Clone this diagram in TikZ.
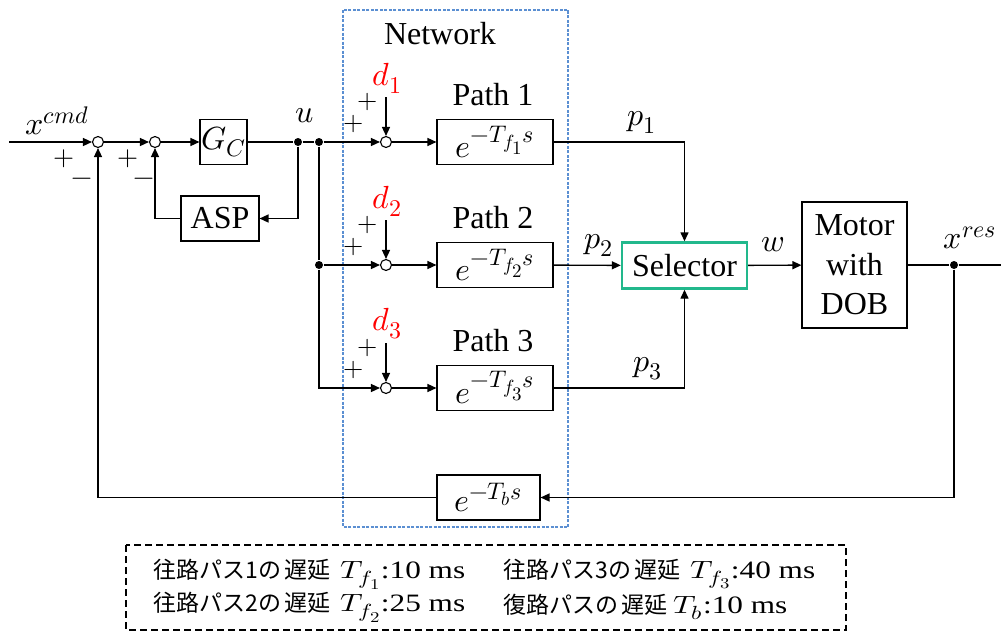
\documentclass[tikz,border=0pt]{standalone}
\usepackage{fontspec}
\usepackage{unicode-math}
\setmainfont{Liberation Serif}
\newfontfamily\jp{Noto Sans CJK JP}
\DeclareMathSizes{32}{32}{24}{19}
\DeclareMathSizes{25}{25}{19}{15}
\usetikzlibrary{arrows.meta,positioning}
\definecolor{selgreen}{RGB}{34,184,140}
\definecolor{netblue}{RGB}{91,143,210}
\definecolor{dred}{RGB}{255,0,0}
\newcommand{\jtext}[1]{{\jp\fontsize{23}{26}\selectfont #1}}
\newcommand{\wtext}[1]{\scalebox{1.25}[1]{#1}}
\begin{document}
\begin{tikzpicture}[x=1pt,y=-1pt,
  line width=1.4pt,
  >={Triangle[length=9pt,width=8pt]},
  blk/.style={draw,line width=1.1pt,minimum height=45pt,inner sep=0pt,font=\fontsize{32}{36}\selectfont},
  sumc/.style={circle,draw,fill=white,line width=1.1pt,minimum size=11pt,inner sep=0pt},
  jdot/.style={circle,fill=black,minimum size=8pt,inner sep=0pt},
  lbl/.style={font=\fontsize{32}{36}\selectfont,inner sep=0pt},
  sgn/.style={font=\fontsize{27}{29}\selectfont,inner sep=0pt},
  psgn/.style={font=\fontsize{26}{28}\selectfont,inner sep=0pt},
  dlbl/.style={font=\fontsize{32}{36}\selectfont,text=dred,inner sep=0pt},
  jtxt/.style={font=\fontsize{25}{30}\selectfont,anchor=west,inner sep=0pt}
]
\useasboundingbox (0,0) rectangle (1001,632);
% network box
\draw[netblue,line width=1.3pt,dash pattern=on 3pt off 1.5pt] (343,10) rectangle (568,527);
\node[lbl] (net) at (440,34) {Network};
% blocks
\node[blk,minimum width=47pt] (gc) at (223.5,142) {$G_C$};
\node[blk,minimum width=78pt] (asp) at (220,218.5) {ASP};
\node[blk,minimum width=116pt] (pb1) at (495,142) {$e^{-T_{f_1}s}$};
\node[blk,minimum width=116pt] (pb2) at (495,265) {$e^{-T_{f_2}s}$};
\node[blk,minimum width=116pt] (pb3) at (495,388) {$e^{-T_{f_3}s}$};
\node[blk,minimum width=103pt] (fb) at (488.5,497.5) {$e^{-T_b s}$};
\node[blk,draw=selgreen,line width=2.4pt,minimum width=125pt,minimum height=46pt] (sel) at (684.5,265.5) {Selector};
\node[blk,minimum width=105pt,minimum height=126pt,align=center,font=\fontsize{32}{39.5}\selectfont] (mot) at (854.5,265) {Motor\\with\\DOB};
% sums
\node[sumc] (s1) at (98,142) {};
\node[sumc] (s2) at (155,142) {};
\node[sumc] (ps1) at (386,142) {};
\node[sumc] (ps2) at (386,265) {};
\node[sumc] (ps3) at (386,388) {};
% junctions
\node[jdot] (u1) at (298,142) {};
\node[jdot] (u2) at (319,142) {};
\node[jdot] (u3) at (319,265) {};
\node[jdot] (xr) at (954,265) {};
\coordinate (xin) at (9,142);
\coordinate (xout) at (1001,265);
\coordinate (d1s) at (386,97);
\coordinate (d2s) at (386,220);
\coordinate (d3s) at (386,343);
% path labels
\node[lbl] (pl1) at (493,95) {Path 1};
\node[lbl] (pl2) at (493,218) {Path 2};
\node[lbl] (pl3) at (493,341) {Path 3};
% signal labels
\node[lbl] (lxc) at (57,121) {$x^{cmd}$};
\node[lbl] (lu) at (305,116) {$u$};
\node[lbl] (lp1) at (642,122) {$p_1$};
\node[lbl] (lp2) at (599,245) {$p_2$};
\node[lbl] (lp3) at (648,369) {$p_3$};
\node[lbl] (lw) at (773,245) {$w$};
\node[lbl] (lxr) at (970,238) {$x^{res}$};
\node[dlbl] (d1) at (387,78) {$d_1$};
\node[dlbl] (d2) at (387,201) {$d_2$};
\node[dlbl] (d3) at (387,324) {$d_3$};
% signs
\node[sgn] at (64,159) {$+$};
\node[sgn] at (82,182) {$-$};
\node[sgn] at (128,159) {$+$};
\node[sgn] at (144,182) {$-$};
\foreach \yy in {0,123,246}{
  \node[psgn] at (368,{102+\yy}) {$+$};
  \node[psgn] at (354,{124+\yy}) {$+$};
}
% connectors
\draw[->] (xin) -- (s1);
\draw[->] (s1) -- (s2);
\draw[->] (s2) -- (gc);
\draw (gc) -- (u1) -- (u2);
\draw[->] (u2) -- (ps1);
\draw[->] (u1) |- (asp);
\draw[->] (asp) -| (s2);
\draw (u2) -- (u3);
\draw[->] (u3) -- (ps2);
\draw[->] (u3) |- (ps3);
\draw[->] (d1s) -- (ps1);
\draw[->] (d2s) -- (ps2);
\draw[->] (d3s) -- (ps3);
\draw[->] (ps1) -- (pb1);
\draw[->] (ps2) -- (pb2);
\draw[->] (ps3) -- (pb3);
\draw[->] (pb1) -| (sel);
\draw[->] (pb2) -- (sel);
\draw[->] (pb3) -| (sel);
\draw[->] (sel) -- (mot);
\draw (mot) -- (xr) -- (xout);
\draw[->] (xr) |- (fb);
\draw[->] (fb) -| (s1);
% bottom legend
\draw[line width=1.3pt,dash pattern=on 7pt off 4pt] (126,545) rectangle (846,630);
\node[jtxt] (t1) at (153,574) {\jtext{往路パス1の\hspace{3pt}遅延}\hspace{10pt}\wtext{$T_{f_1}$:10 ms}};
\node[jtxt] (t2) at (153,607) {\jtext{往路パス2の\hspace{3pt}遅延}\hspace{10pt}\wtext{$T_{f_2}$:25 ms}};
\node[jtxt] (t3) at (503,574) {\jtext{往路パス3の\hspace{3pt}遅延}\hspace{10pt}\wtext{$T_{f_3}$:40 ms}};
\node[jtxt] (t4) at (503,607) {\jtext{復路パスの\hspace{3pt}遅延}\hspace{6pt}\wtext{$T_b$:10 ms}};
\end{tikzpicture}
\end{document}
